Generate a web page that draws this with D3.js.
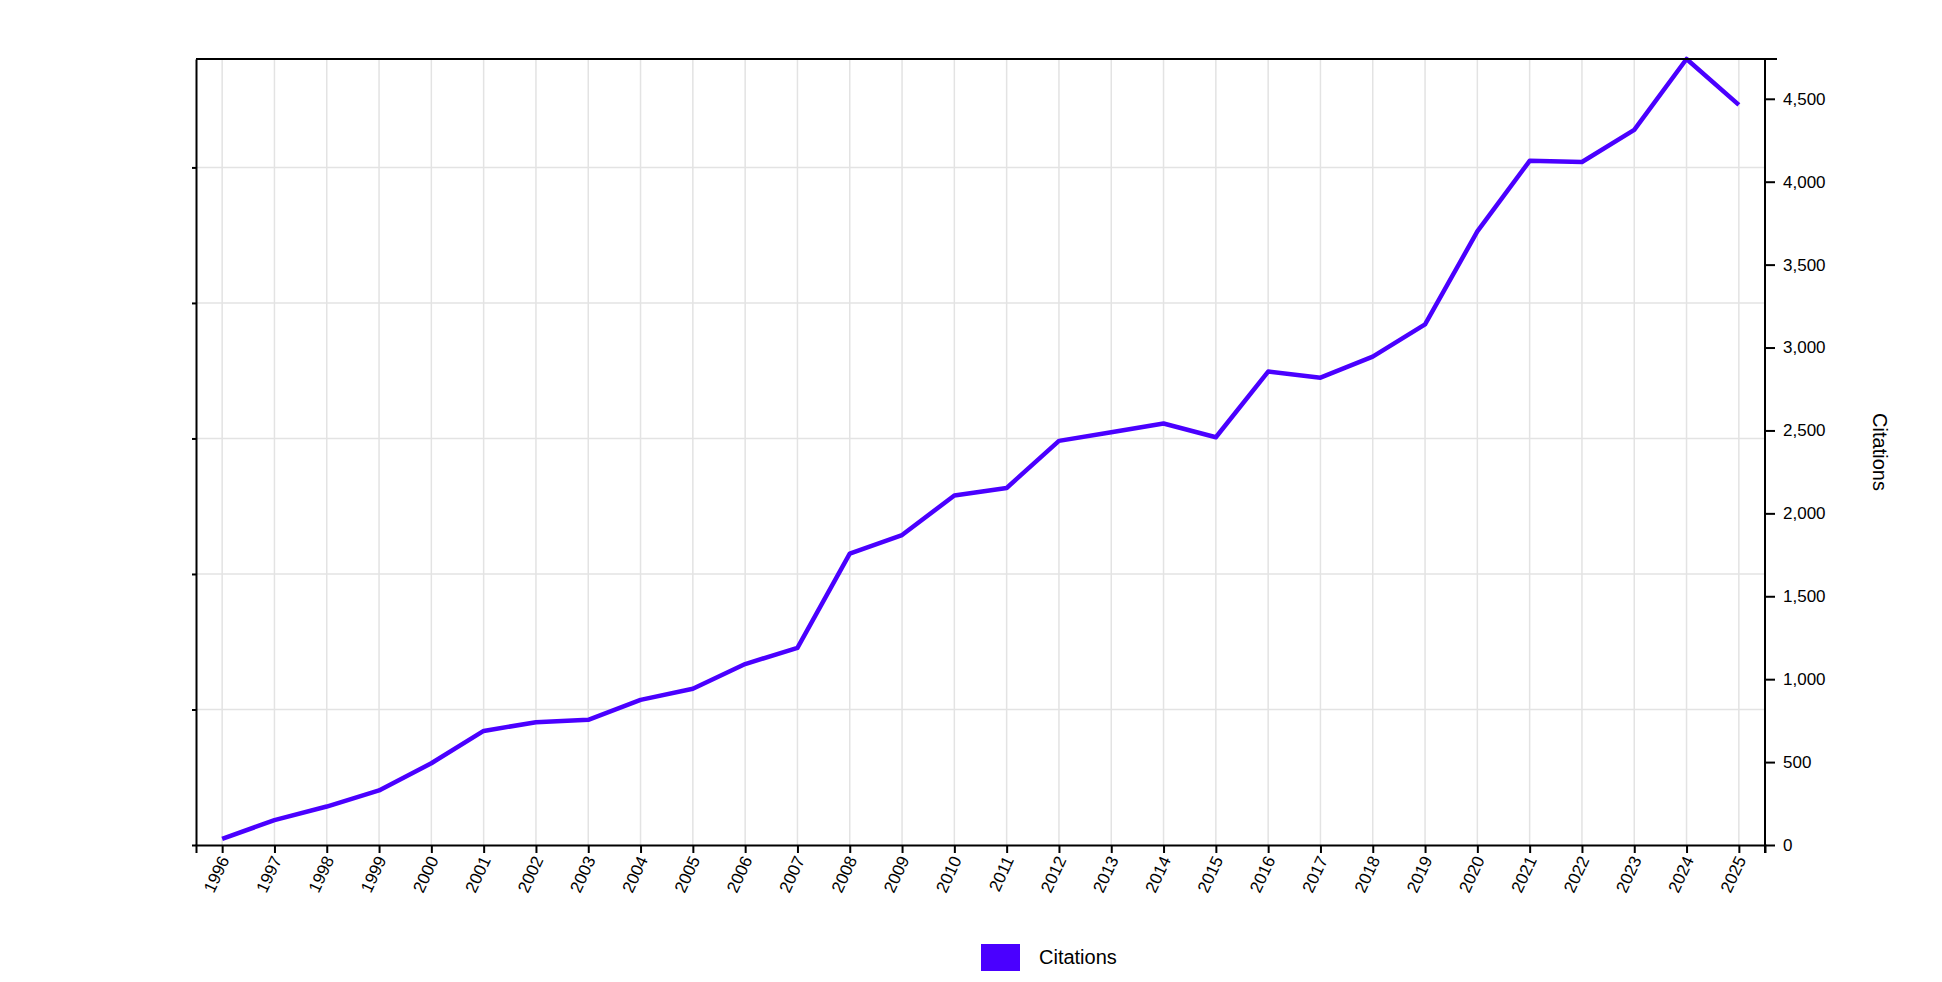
<!DOCTYPE html>
<html><head><meta charset="utf-8">
<script src="https://cdn.jsdelivr.net/npm/d3@7"></script>
<style>body{margin:0;background:#fff}text{font-family:"Liberation Sans",Arial,sans-serif}</style>
</head><body><svg id="c" width="1942" height="982"></svg>
<script>
const years = ["1996","1997","1998","1999","2000","2001","2002","2003","2004","2005","2006","2007","2008","2009","2010","2011","2012","2013","2014","2015","2016","2017","2018","2019","2020","2021","2022","2023","2024","2025"];
const citations = [37,150,232,329,493,688,740,755,875,942,1091,1189,1757,1869,2108,2153,2437,2489,2542,2459,2855,2818,2945,3140,3700,4126,4119,4313,4740,4463];
const yTicks = [0,500,1000,1500,2000,2500,3000,3500,4000,4500];
const seriesName = "Citations";
const color = "#4a00ff";

const svg = d3.select("#c");
const L=196,R=1765,T=59,B=845;
const x = d3.scalePoint().domain(years).range([L,R]).padding(0.5);
const y = d3.scaleLinear().domain([0,d3.max(citations)]).range([B,T]);
const yl = d3.scaleLinear().domain([0,5.8]).range([B,T]);

const g = svg.append("g");
// grid
g.selectAll(".vg").data(years).join("line").attr("x1",d=>x(d)).attr("x2",d=>x(d)).attr("y1",T).attr("y2",B).attr("stroke","#e3e3e3").attr("stroke-width",1.5);
g.selectAll(".hg").data([1,2,3,4,5]).join("line").attr("x1",L).attr("x2",R).attr("y1",d=>yl(d)).attr("y2",d=>yl(d)).attr("stroke","#e3e3e3").attr("stroke-width",1.5);

// line
g.append("path").datum(citations).attr("fill","none").attr("stroke",color).attr("stroke-width",4.5).attr("stroke-linejoin","round")
 .attr("d",d3.line().x((d,i)=>x(years[i])).y(d=>y(d)));

// top frame
svg.append("line").attr("x1",L).attr("x2",R+12).attr("y1",T).attr("y2",T).attr("stroke","#000").attr("stroke-width",2);

// x axis
const xa = svg.append("g").attr("transform",`translate(0,${B})`).call(d3.axisBottom(x).tickSize(8).tickSizeOuter(8));
xa.selectAll("path,line").attr("stroke","#000").attr("stroke-width",2);
xa.selectAll("text").attr("font-size",17).attr("fill","#000").attr("text-anchor","end")
  .attr("transform","rotate(-65)").attr("dx","-0.6em").attr("dy","0.1em");

// left axis (no labels)
const la = svg.append("g").attr("transform",`translate(${L},0)`).call(d3.axisLeft(yl).tickValues([0,1,2,3,4,5]).tickFormat("").tickSize(4).tickSizeOuter(0));
la.selectAll("path,line").attr("stroke","#000").attr("stroke-width",2);

// right axis
const ra = svg.append("g").attr("transform",`translate(${R},0)`).call(d3.axisRight(y).tickValues(yTicks).tickSize(10).tickSizeOuter(0).tickPadding(8));
ra.selectAll("path,line").attr("stroke","#000").attr("stroke-width",2);
ra.select(".domain").attr("d",`M0,${T}V${B+8}`);
ra.selectAll("text").attr("font-size",17).attr("fill","#000");

svg.append("text").attr("transform",`translate(1873,${(T+B)/2}) rotate(90)`).attr("text-anchor","middle").attr("font-size",20).text(seriesName);

// legend
svg.append("rect").attr("x",981).attr("y",944).attr("width",39).attr("height",27).attr("fill",color);
svg.append("text").attr("x",1039).attr("y",964).attr("font-size",20).text(seriesName);
</script></body></html>
